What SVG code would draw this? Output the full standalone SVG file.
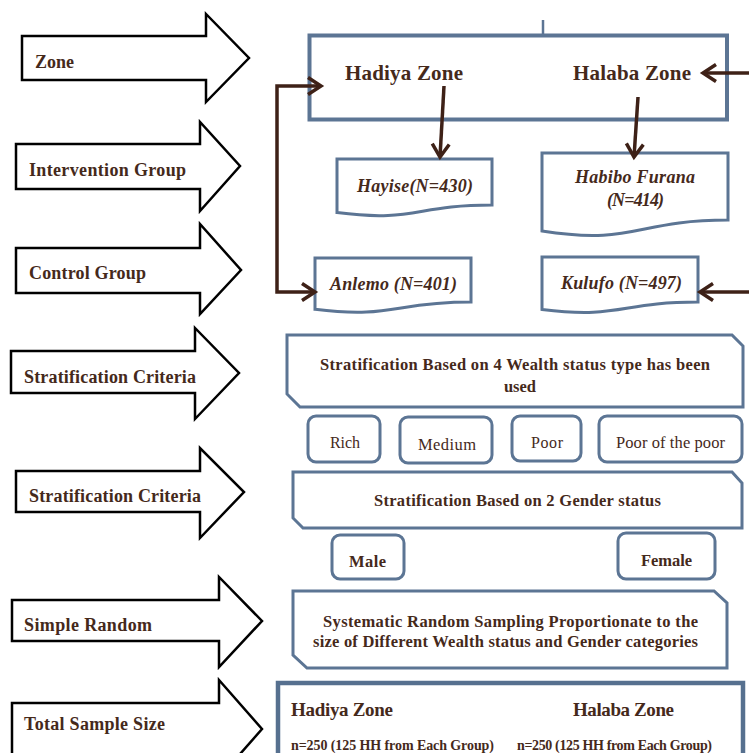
<svg xmlns="http://www.w3.org/2000/svg" width="749" height="753" viewBox="0 0 749 753">
<style>
.blk{fill:#fff;stroke:#000;stroke-width:2.5;stroke-linejoin:miter}
.lbl{font-family:"Liberation Serif",serif;font-weight:bold;font-size:18px;fill:#45291b}
.box{fill:#fff;stroke:#5c7594;stroke-width:3}
.t{font-family:"Liberation Serif",serif;fill:#45291b}
.b{font-weight:bold}
.i{font-style:italic;font-weight:bold}
.con{fill:none;stroke:#3e2117;stroke-width:3.5}
</style>
<defs>
<marker id="ah" viewBox="0 0 20 20" refX="17" refY="10" markerWidth="20" markerHeight="20" markerUnits="userSpaceOnUse" orient="auto-start-reverse" overflow="visible">
<path d="M4,1.5 L17,10 L4,18.5" fill="none" stroke="#3e2117" stroke-width="3.5"/>
</marker>
</defs>
<rect width="749" height="753" fill="#fff"/>

<g id="arrow-zone">
<path class="blk" d="M22,36 H206 V14 L249,58 L206,102 V80 H22 Z"/>
<text class="lbl" x="35" y="68" textLength="39">Zone</text>
</g>
<g id="arrow-intervention">
<path class="blk" d="M16,144 H200 V122 L240,166 L200,211 V189 H16 Z"/>
<text class="lbl" x="29" y="176" textLength="157">Intervention Group</text>
</g>
<g id="arrow-control">
<path class="blk" d="M16,248 H200 V224 L241,270 L200,314 V293 H16 Z"/>
<text class="lbl" x="29" y="279" textLength="117">Control Group</text>
</g>
<g id="arrow-strat1">
<path class="blk" d="M11,351 H195 V328 L239,373 L195,419 V393 H11 Z"/>
<text class="lbl" x="24" y="383" textLength="172">Stratification Criteria</text>
</g>
<g id="arrow-strat2">
<path class="blk" d="M16,471 H200 V448 L244,492 L200,538 V512 H16 Z"/>
<text class="lbl" x="29" y="502" textLength="172">Stratification Criteria</text>
</g>
<g id="arrow-simple">
<path class="blk" d="M12,600 H219 V577 L262,621 L219,667 V641 H12 Z"/>
<text class="lbl" x="24" y="631" textLength="128">Simple Random</text>
</g>
<g id="arrow-total">
<path class="blk" d="M12,703 H219 V680 L262,729 L219,778 V757 H12 Z"/>
<text class="lbl" x="24" y="730" textLength="141">Total Sample Size</text>
</g>

<g id="zones">
<line x1="543" y1="20" x2="543" y2="35" stroke="#5c7594" stroke-width="2.5"/>
<rect x="309.5" y="35.5" width="417.5" height="84" fill="#fff" stroke="#5c7594" stroke-width="4"/>
<text class="t b" x="345" y="80" font-size="21" textLength="118">Hadiya Zone</text>
<text class="t b" x="573" y="80" font-size="21" textLength="118">Halaba Zone</text>
</g>

<g id="hayise">
<path class="box" d="M337,159 H492 V205 C414.5,205 414.5,222.6 337,212.6 Z"/>
<text class="t i" x="357" y="192" font-size="18" textLength="116">Hayise(N=430)</text>
</g>
<g id="habibo">
<path class="box" d="M542,153 H728 V220 C635,220 635,245.5 542,231 Z"/>
<text class="t i" x="575" y="183" font-size="18" textLength="120">Habibo Furana</text>
<text class="t i" x="607" y="206" font-size="18" textLength="57">(N=414)</text>
</g>
<g id="anlemo">
<path class="box" d="M315,258 H471 V302 C393,302 393,318.8 315,309.3 Z"/>
<text class="t i" x="330" y="290" font-size="18" textLength="127">Anlemo (N=401)</text>
</g>
<g id="kulufo">
<path class="box" d="M542,257 H698 V302 C620,302 620,319.2 542,309.4 Z"/>
<text class="t i" x="561" y="289" font-size="18" textLength="121">Kulufo (N=497)</text>
</g>

<g id="wealth">
<path class="box" d="M287,335 H732 L743,346 V407 H300 L287,394 Z"/>
<text class="t b" x="320" y="370" font-size="16.5" textLength="390">Stratification Based on 4 Wealth status type has been</text>
<text class="t b" x="520" y="392" font-size="16.5" text-anchor="middle">used</text>
</g>
<g id="rich">
<rect class="box" x="308" y="416" width="72" height="46" rx="8"/>
<text class="t" x="330" y="448" font-size="16" textLength="30">Rich</text>
</g>
<g id="medium">
<rect class="box" x="400" y="417" width="92" height="46" rx="8"/>
<text class="t" x="418" y="450" font-size="16.5" textLength="58">Medium</text>
</g>
<g id="poor">
<rect class="box" x="512" y="416" width="69" height="45" rx="8"/>
<text class="t" x="531" y="448" font-size="16" textLength="32">Poor</text>
</g>
<g id="poorest">
<rect class="box" x="599" y="416" width="143" height="46" rx="8"/>
<text class="t" x="616" y="448" font-size="16.5" textLength="109">Poor of the poor</text>
</g>

<g id="gender">
<path class="box" d="M293,472 H732 L742,483 V528 H303 L293,518 Z"/>
<text class="t b" x="374" y="506" font-size="16.5" textLength="287">Stratification Based on 2 Gender status</text>
</g>
<g id="male">
<rect class="box" x="332" y="535" width="72" height="44" rx="8"/>
<text class="t b" x="349" y="567" font-size="16.5" textLength="37">Male</text>
</g>
<g id="female">
<rect class="box" x="618" y="533" width="97" height="46" rx="8"/>
<text class="t b" x="641" y="566" font-size="16.5" textLength="51">Female</text>
</g>

<g id="systematic">
<path class="box" d="M293,591 H714 L727,603 V668 H307 L293,655 Z"/>
<text class="t b" x="323" y="627" font-size="16.5" textLength="375">Systematic Random Sampling Proportionate to the</text>
<text class="t b" x="313" y="647" font-size="16.5" textLength="385">size of Different Wealth status and Gender categories</text>
</g>

<g id="total">
<rect x="278" y="683" width="465" height="90" fill="#fff" stroke="#56708f" stroke-width="4.5"/>
<text class="t b" x="291" y="716" font-size="19" textLength="102">Hadiya Zone</text>
<text class="t b" x="573" y="716" font-size="19" textLength="101">Halaba Zone</text>
<text class="t b" x="291" y="750" font-size="14" textLength="203">n=250 (125 HH from Each Group)</text>
<text class="t b" x="517" y="750" font-size="14" textLength="195">n=250 (125 HH from Each Group)</text>
</g>

<g id="connectors">
<path class="con" d="M444,86 L440,157" marker-end="url(#ah)"/>
<path class="con" d="M638,97 L634,157" marker-end="url(#ah)"/>
<path class="con" d="M749,73 L703,73" marker-end="url(#ah)"/>
<path class="con" d="M749,292 L700,292" marker-end="url(#ah)"/>
<path class="con" d="M321,86 L277,86 L277,292 L315,292" marker-start="url(#ah)" marker-end="url(#ah)"/>
</g>
</svg>
